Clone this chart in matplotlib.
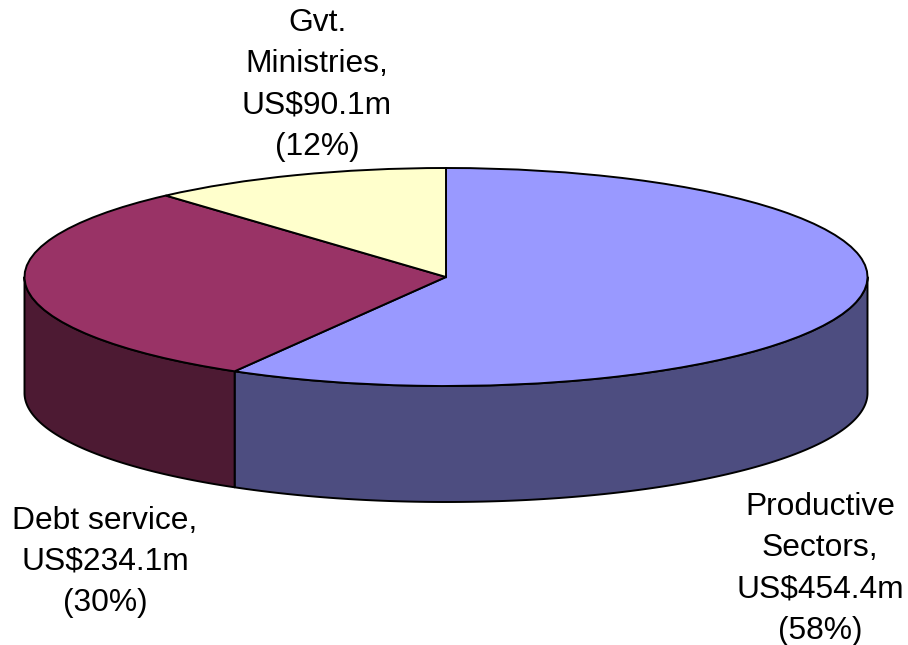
import numpy as np
import matplotlib
matplotlib.use("Agg")
import matplotlib.pyplot as plt

categories = ["Productive\nSectors,\nUS$454.4m\n(58%)", "Debt service,\nUS$234.1m\n(30%)", "Gvt.\nMinistries,\nUS$90.1m\n(12%)"]
amounts = [454.4, 234.1, 90.1]
top_colors = ["#9999FF", "#993366", "#FFFFCC"]
side_colors = ["#4D4D80", "#4D1A33", "#80806A"]

W, H = 908, 645
CX, CY, RX, RY, DEPTH = 446.0, 277.0, 421.5, 109.0, 116.0
plt.rcParams["font.family"] = ["Liberation Sans", "DejaVu Sans"]

fig = plt.figure(figsize=(W / 100, H / 100), dpi=100, facecolor="white")
ax = fig.add_axes([0, 0, 1, 1])

# Top face: unit pie stretched into an ellipse by the axis limits
ax.pie(amounts, colors=top_colors, startangle=90, counterclock=False, radius=1,
       wedgeprops=dict(edgecolor="black", linewidth=1.4, zorder=3))
ax.set_aspect("auto")
ax.set_xlim(-CX / RX, (W - CX) / RX)
ax.set_ylim((CY - H) / RY, CY / RY)
ax.axis("off")

# Side wall: the part of each slice's rim on the near half of the ellipse
depth = DEPTH / RY
bounds = np.concatenate([[0], np.cumsum(amounts)]) / np.sum(amounts) * 360.0
for lo, hi, col in zip(bounds[:-1], bounds[1:], side_colors):
    a, b = max(lo, 90.0), min(hi, 270.0)
    if a >= b:
        continue
    t = np.radians(np.linspace(a, b, 200))
    x, y = np.sin(t), np.cos(t)
    ax.fill(np.r_[x, x[::-1]], np.r_[y, y[::-1] - depth], facecolor=col,
            edgecolor="black", linewidth=1.4, zorder=2, joinstyle="round")

# Slice labels, placed in pixel terms of the figure
label_xy = [(820, 569), (105, 562), (317, 85)]
for text, (px, py) in zip(categories, label_xy):
    fig.text(px / W, 1 - py / H, text, ha="center", va="center", fontsize=22.9,
             linespacing=1.49, color="black")

fig.savefig("out.png", dpi=100, facecolor="white")
